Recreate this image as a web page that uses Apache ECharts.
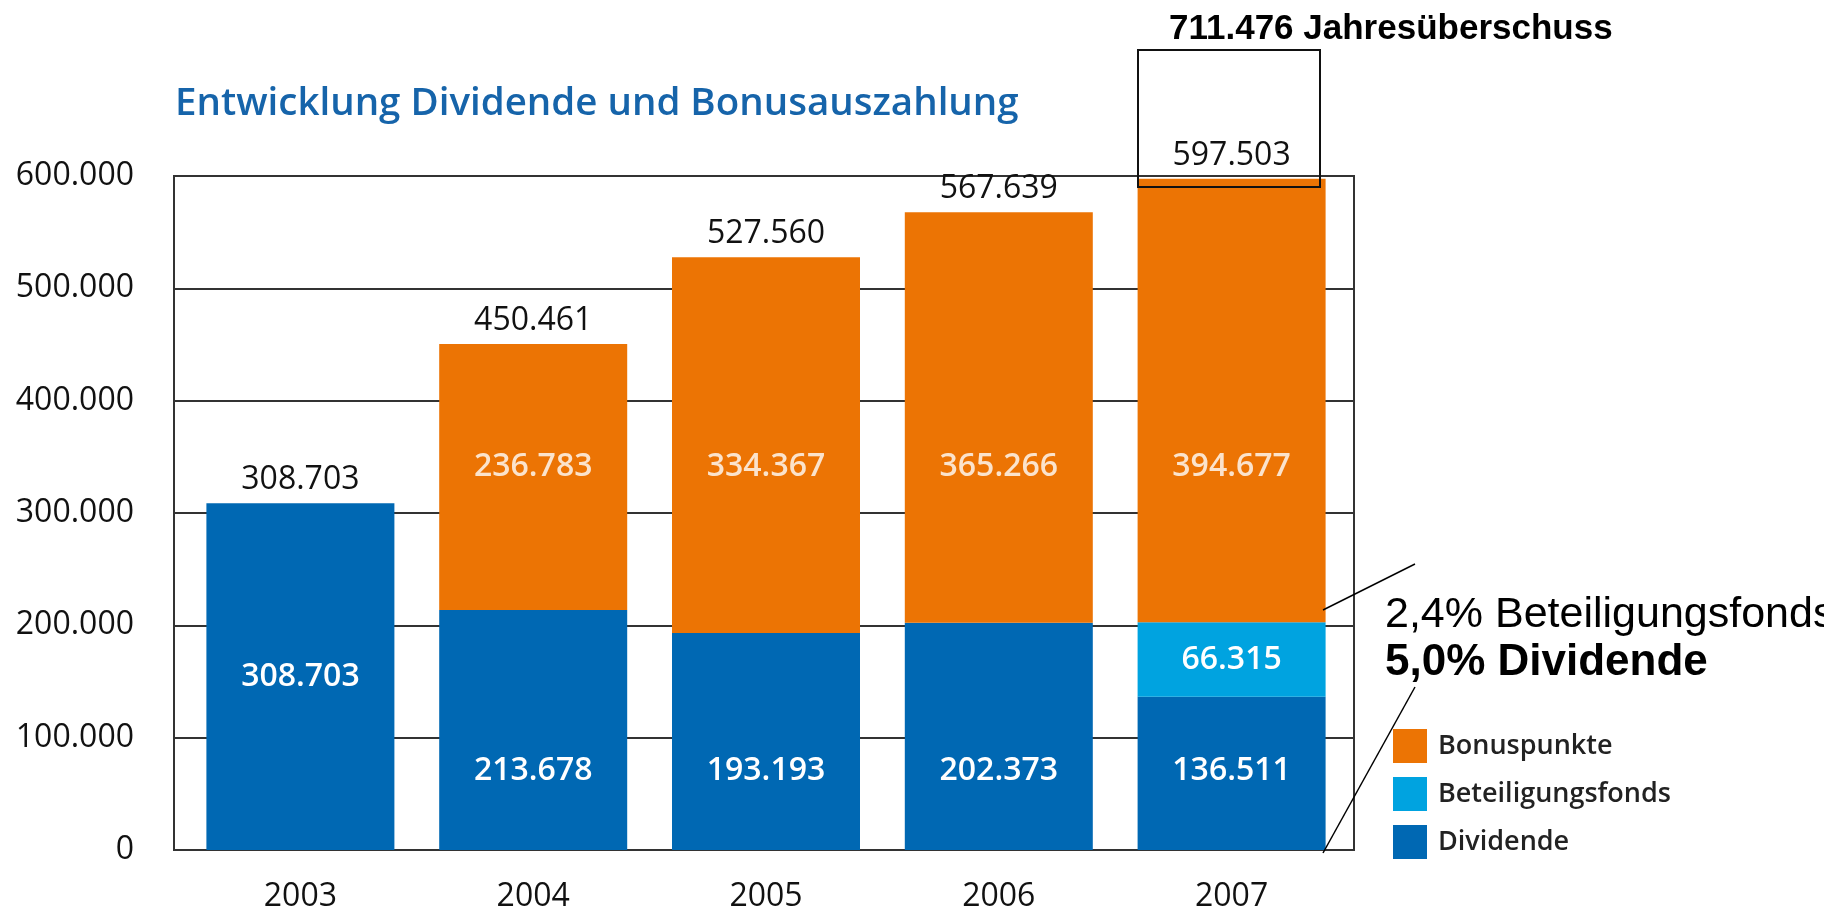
<!DOCTYPE html>
<html>
<head>
<meta charset="utf-8">
<title>Entwicklung Dividende und Bonusauszahlung</title>
<script src="https://cdn.jsdelivr.net/npm/echarts@6/dist/echarts.min.js"></script>
<style>
  html, body { margin: 0; padding: 0; background: #fff; }
  #chart { width: 1824px; height: 912px; }
</style>
</head>
<body>
<div id="chart"></div>
<script>
// Daten
var years = ['2003', '2004', '2005', '2006', '2007'];
var dividende = [308703, 213678, 193193, 202373, 136511];
var beteiligung = ['-', '-', '-', '-', 66315];
var bonus = ['-', 236783, 334367, 365266, 394677];
var yTicks = [0, 100000, 200000, 300000, 400000, 500000, 600000];

// Höhe, auf der die Bonus-Beschriftungen stehen (wie im Original alle auf einer Linie)
var BONUS_LABEL_LEVEL = 341000;

function num(v) {
  return v === '-' ? 0 : v;
}
function fmt(v) {
  return String(v).replace(/\B(?=(\d{3})+(?!\d))/g, '.');
}

var totals = years.map(function (y, i) {
  return num(dividende[i]) + num(beteiligung[i]) + num(bonus[i]);
});

var FONT = '"Open Sans", "Noto Sans", sans-serif';
var ARIAL = '"Liberation Sans", Arial, sans-serif';
var ORANGE = '#EC7404';
var LIGHTBLUE = '#00A3E0';
var BLUE = '#0068B3';

var chart = echarts.init(document.getElementById('chart'));

var option = {
  animation: false,
  backgroundColor: '#fff',
  grid: [
    { left: 174, right: 470, top: 176, bottom: 62, outerBoundsMode: 'none', show: true, borderColor: '#333', borderWidth: 2, backgroundColor: 'transparent' },
    { left: 184, right: 476, top: 176, bottom: 62, outerBoundsMode: 'none' }
  ],
  xAxis: [
    { gridIndex: 0, type: 'category', data: years, show: false },
    {
      gridIndex: 1, type: 'category', data: years,
      axisLine: { show: false }, axisTick: { show: false },
      axisLabel: { fontFamily: FONT, fontSize: 32, color: '#111', margin: 31 }
    }
  ],
  yAxis: [
    {
      gridIndex: 0, type: 'value', min: yTicks[0], max: yTicks[yTicks.length - 1], interval: 100000,
      axisLine: { show: false }, axisTick: { show: false },
      axisLabel: { fontFamily: FONT, fontSize: 32, color: '#111', margin: 40, formatter: fmt },
      splitLine: { lineStyle: { color: '#333', width: 2 } }
    },
    {
      gridIndex: 1, type: 'value', min: yTicks[0], max: yTicks[yTicks.length - 1], interval: 100000,
      show: false, splitLine: { show: false }
    }
  ],
  legend: {
    orient: 'vertical',
    left: 1388,
    top: 724,
    itemWidth: 34,
    itemHeight: 34,
    itemGap: 14,
    icon: 'rect',
    data: ['Bonuspunkte', 'Beteiligungsfonds', 'Dividende'],
    textStyle: { fontFamily: FONT, fontSize: 27, fontWeight: 600, color: '#222', padding: [0, 0, 0, 6] }
  },
  series: [
    {
      name: 'Dividende', type: 'bar', stack: 'total', xAxisIndex: 1, yAxisIndex: 1,
      barWidth: 188,
      itemStyle: { color: BLUE },
      label: { show: true, color: '#fff', fontFamily: FONT, fontSize: 32, fontWeight: 600, lineHeight: 32, formatter: function (p) { return fmt(p.value); } },
      data: dividende.map(function (v, i) {
        return {
          value: v,
          label: bonus[i] === '-' ? { position: 'inside' } : { position: 'insideBottom', distance: 63 }
        };
      })
    },
    {
      name: 'Beteiligungsfonds', type: 'bar', stack: 'total', xAxisIndex: 1, yAxisIndex: 1,
      barWidth: 188,
      itemStyle: { color: LIGHTBLUE },
      label: { show: true, position: 'inside', color: '#fff', fontFamily: FONT, fontSize: 32, fontWeight: 600, formatter: function (p) { return fmt(p.value); } },
      data: beteiligung
    },
    {
      name: 'Bonuspunkte', type: 'bar', stack: 'total', xAxisIndex: 1, yAxisIndex: 1,
      barWidth: 188,
      itemStyle: { color: ORANGE },
      data: bonus
    },
    {
      // unsichtbarer Aufsatz für die Summen über den Balken
      name: 'Summe', type: 'bar', stack: 'total', xAxisIndex: 1, yAxisIndex: 1,
      barWidth: 188,
      itemStyle: { color: 'transparent' },
      label: {
        show: true, position: 'top', distance: 7, color: '#111',
        fontFamily: FONT, fontSize: 32, lineHeight: 32,
        formatter: function (p) { return fmt(totals[p.dataIndex]); }
      },
      data: totals.map(function () { return 0; })
    },
    {
      name: 'BonusLabel', type: 'scatter', xAxisIndex: 1, yAxisIndex: 1,
      symbolSize: 1, itemStyle: { color: 'transparent' }, silent: true, z: 5,
      label: {
        show: true, position: 'inside', color: '#fff',
        fontFamily: FONT, fontSize: 32, fontWeight: 600,
        formatter: function (p) { return fmt(p.value[2]); }
      },
      data: bonus.map(function (v, i) {
        return v === '-' ? null : [i, BONUS_LABEL_LEVEL, v];
      }).filter(function (d) { return d !== null; })
    }
  ],
  graphic: [
    {
      type: 'text', left: 175, top: 85,
      style: { text: 'Entwicklung Dividende und Bonusauszahlung', fontFamily: FONT, fontSize: 38.5, fontWeight: 600, fill: '#1664AA' }
    },
    {
      type: 'text', left: 1169, top: 12,
      style: { text: '711.476 Jahresüberschuss', fontFamily: ARIAL, fontSize: 35, fontWeight: 'bold', fill: '#000' }
    },
    {
      type: 'rect', shape: { x: 1138, y: 50, width: 182, height: 137 },
      style: { fill: 'none', stroke: '#111', lineWidth: 2 }, z: 10
    },
    {
      type: 'text', left: 1385, top: 594,
      style: { text: '2,4% Beteiligungsfonds', fontFamily: ARIAL, fontSize: 43, fill: '#000' }
    },
    {
      type: 'text', left: 1385, top: 641,
      style: { text: '5,0% Dividende', fontFamily: ARIAL, fontSize: 44, fontWeight: 'bold', fill: '#000' }
    },
    {
      type: 'line', shape: { x1: 1323, y1: 610, x2: 1415, y2: 564 },
      style: { stroke: '#000', lineWidth: 1.5 }, z: 10
    },
    {
      type: 'line', shape: { x1: 1323, y1: 853, x2: 1415, y2: 687 },
      style: { stroke: '#000', lineWidth: 1.5 }, z: 10
    }
  ]
};

chart.setOption(option);
window.onresize = function () {
  chart.resize();
};
</script>
</body>
</html>
